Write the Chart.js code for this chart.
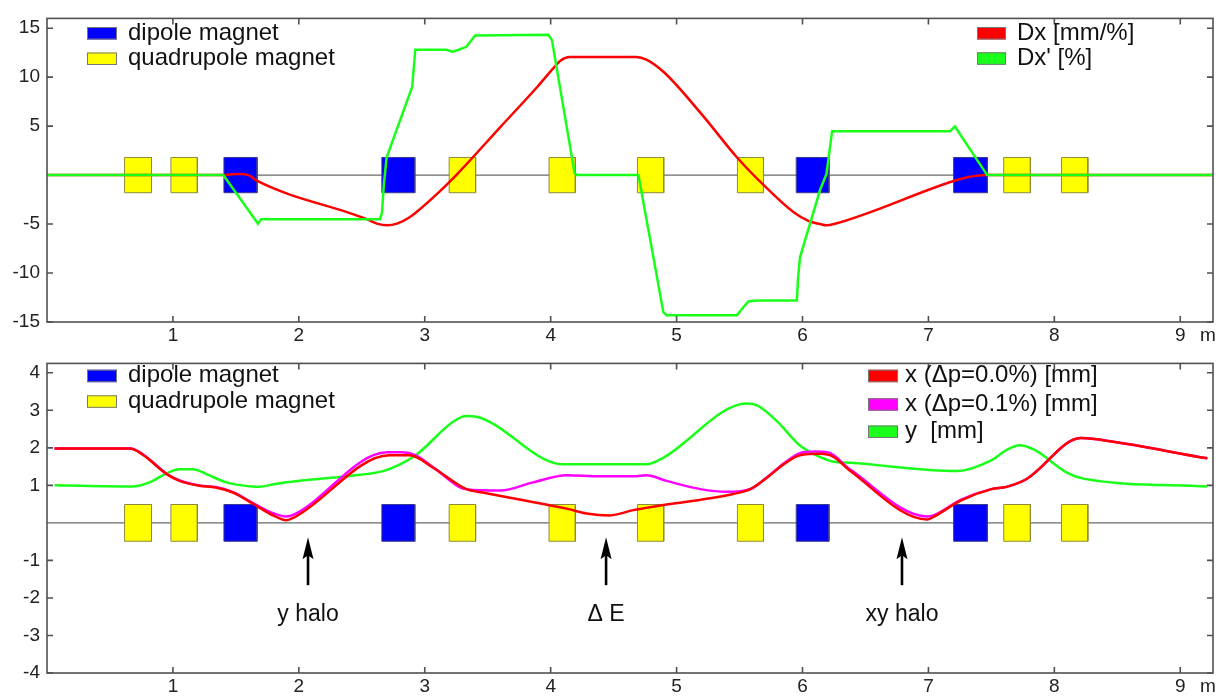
<!DOCTYPE html>
<html>
<head>
<meta charset="utf-8">
<script src="https://cdn.jsdelivr.net/npm/chart.js@4.4.1/dist/chart.umd.min.js"></script>
<style>
  body { margin: 0; background: #fff; }
  #wrap { position: relative; width: 1221px; height: 697px; }
  canvas { position: absolute; left: 0; }
  #top { top: 0; }
  #bottom { top: 345px; }
</style>
</head>
<body>
<div id="wrap">
  <canvas id="top" width="1221" height="345"></canvas>
  <canvas id="bottom" width="1221" height="352"></canvas>
</div>
<script>
// beam line length [m] and axis ticks
const sMax = 9.26;
const xTickValues = [1, 2, 3, 4, 5, 6, 7, 8, 9, 9.22];
const xTickLabels = ['1', '2', '3', '4', '5', '6', '7', '8', '9', 'm'];
const topYTicks = [-15, -10, -5, 5, 10, 15];
const bottomYTicks = [-4, -3, -2, -1, 1, 2, 3, 4];

// magnets along the line
const magnetStart = [0.616, 0.984, 1.405, 2.659, 3.194, 3.987, 4.689, 5.483, 5.950, 7.200, 7.598, 8.057];
const magnetEnd   = [0.830, 1.194, 1.668, 2.921, 3.404, 4.196, 4.898, 5.690, 6.210, 7.468, 7.810, 8.266];
const magnetType  = ['quad', 'quad', 'dipole', 'dipole', 'quad', 'quad', 'quad', 'quad', 'dipole', 'dipole', 'quad', 'quad'];
const magnetLabels = ['dipole magnet', 'quadrupole magnet'];

// top panel: dispersion
const dxS = [0, 1.40, 1.47, 1.53, 1.60, 1.67, 2.54, 2.62, 2.70, 2.78, 2.88, 2.96, 3.10, 3.25, 3.60, 3.90, 4.02, 4.08, 4.15, 4.68, 4.76, 4.90, 5.20, 5.48, 5.69, 5.93, 6.05, 6.14, 6.19, 6.25, 7.20, 7.30, 7.40, 7.46, 9.26];
const dxV = [0, 0, 0.08, 0.1, 0, -0.6, -4.5, -4.95, -5.13, -4.95, -4.3, -3.5, -1.9, 0, 4.9, 9.1, 10.9, 11.7, 12.05, 12.07, 11.8, 10.5, 6.2, 1.8, -1.0, -3.8, -4.7, -5.0, -5.13, -5.0, -0.6, -0.25, -0.05, 0, 0];
const dxpS = [0, 1.40, 1.676, 1.70, 2.643, 2.66, 2.675, 2.697, 2.90, 2.91, 2.925, 3.17, 3.22, 3.27, 3.33, 3.40, 3.98, 4.01, 4.19, 4.21, 4.697, 4.895, 4.92, 5.48, 5.53, 5.57, 5.64, 5.955, 5.965, 5.98, 6.14, 6.19, 6.235, 7.17, 7.21, 7.467, 9.26];
const dxpV = [0, 0, -4.97, -4.5, -4.5, -3.9, -1.0, 1.8, 9.0, 10.5, 12.8, 12.8, 12.6, 12.8, 13.1, 14.25, 14.33, 13.8, 0.2, 0, 0, -14.0, -14.3, -14.3, -13.5, -12.9, -12.8, -12.8, -10.5, -8.4, -1.5, 0.1, 4.47, 4.47, 4.96, 0, 0];
const topLabels = ['Dx [mm/%]', "Dx' [%]"];

// bottom panel: beam envelopes
const x0S = [0.06, 0.66, 0.76, 0.95, 1.053, 1.21, 1.34, 1.477, 1.636, 1.795, 1.90, 1.96, 2.72, 2.88, 3.067, 3.33, 3.46, 4.127, 4.286, 4.47, 4.657, 4.79, 5.45, 5.585, 5.72, 5.85, 5.98, 6.14, 6.246, 6.38, 6.99, 7.04, 7.26, 7.50, 7.62, 7.78, 8.21, 8.30, 9.215];
const x0V = [1.98, 1.98, 1.82, 1.30, 1.12, 0.99, 0.945, 0.81, 0.51, 0.20, 0.07, 0.14, 1.80, 1.80, 1.47, 0.90, 0.81, 0.38, 0.25, 0.20, 0.34, 0.42, 0.77, 0.90, 1.21, 1.56, 1.80, 1.84, 1.76, 1.38, 0.09, 0.16, 0.60, 0.90, 0.96, 1.17, 2.26, 2.24, 1.72];
const x1S = [0.06, 0.66, 0.76, 0.95, 1.053, 1.21, 1.34, 1.477, 1.636, 1.795, 1.90, 1.96, 2.70, 2.82, 2.93, 3.067, 3.33, 3.60, 3.86, 4.127, 4.39, 4.66, 4.76, 4.92, 5.19, 5.40, 5.585, 5.72, 5.85, 5.98, 6.10, 6.20, 6.38, 6.99, 7.04, 7.26, 7.50, 7.62, 7.78, 8.21, 8.30, 9.215];
const x1V = [1.98, 1.98, 1.83, 1.31, 1.13, 1.00, 0.955, 0.82, 0.53, 0.26, 0.17, 0.22, 1.88, 1.88, 1.80, 1.48, 0.90, 0.86, 1.08, 1.27, 1.24, 1.24, 1.27, 1.12, 0.90, 0.83, 0.90, 1.22, 1.58, 1.86, 1.90, 1.88, 1.42, 0.17, 0.20, 0.62, 0.90, 0.96, 1.17, 2.26, 2.24, 1.72];
const yS = [0.06, 0.68, 0.815, 0.95, 1.053, 1.16, 1.266, 1.424, 1.55, 1.69, 1.80, 2.007, 2.40, 2.67, 2.80, 2.935, 3.227, 3.33, 3.41, 4.10, 4.76, 4.87, 5.56, 5.64, 5.80, 5.98, 6.14, 6.246, 6.38, 7.23, 7.49, 7.625, 7.72, 7.84, 8.10, 8.23, 9.215];
const yV = [1.00, 0.97, 1.08, 1.32, 1.43, 1.43, 1.30, 1.08, 1.00, 0.96, 1.03, 1.12, 1.25, 1.38, 1.55, 1.82, 2.70, 2.85, 2.83, 1.56, 1.56, 1.69, 3.18, 3.13, 2.70, 2.06, 1.75, 1.63, 1.60, 1.38, 1.65, 1.95, 2.07, 1.95, 1.34, 1.18, 0.97];
const bottomLabels = ['x (Δp=0.0%) [mm]', 'x (Δp=0.1%) [mm]', 'y  [mm]'];

// arrows in bottom panel
const annoS = [2.073, 4.44, 6.79];
const annoLabels = ['y halo', 'Δ E', 'xy halo'];

const RED = '#ff0000', GREEN = '#1aff1a', MAGENTA = '#ff00ff', BLUE = '#0000ff', YELLOW = '#ffff00';
const FONT = '"Liberation Sans", Arial, sans-serif';

Chart.defaults.font.family = FONT;
Chart.defaults.font.size = 19;
Chart.defaults.color = '#222';

function pts(s, v) {
  return s.map((x, i) => ({ x: x, y: v[i] }));
}

function curve(s, v, color, order, smooth) {
  return {
    data: pts(s, v), borderColor: color, borderWidth: 2.5, pointRadius: 0,
    fill: false, order: order,
    tension: smooth ? 0.4 : 0, cubicInterpolationMode: smooth ? 'monotone' : 'default'
  };
}

function magnetSets(h) {
  const sets = [];
  magnetStart.forEach((a, i) => {
    const b = magnetEnd[i];
    const dip = magnetType[i] === 'dipole';
    sets.push({
      data: [{ x: a, y: h }, { x: b, y: h }],
      borderWidth: 0, pointRadius: 0, tension: 0,
      backgroundColor: dip ? BLUE : YELLOW, fill: { value: -h }, order: 6
    });
    sets.push({
      data: [{ x: a, y: -h }, { x: a, y: h }, { x: b, y: h }, { x: b, y: -h }, { x: a, y: -h }],
      borderColor: dip ? '#3a3a8c' : '#8c8a3c', borderWidth: 1, pointRadius: 0,
      tension: 0, fill: false, order: 5
    });
  });
  return sets;
}

function zeroLine() {
  return { data: [{ x: 0, y: 0 }, { x: sMax, y: 0 }], borderColor: '#6a6a6a', borderWidth: 1.2, pointRadius: 0, fill: false, order: 10 };
}

function drawLegend(ctx, labels, colors, boxX, boxW, textX, rows) {
  ctx.font = '24px ' + FONT;
  ctx.textAlign = 'left';
  ctx.textBaseline = 'alphabetic';
  labels.forEach((lab, i) => {
    const cy = rows[i];
    ctx.fillStyle = colors[i];
    ctx.fillRect(boxX, cy - 6, boxW, 12.5);
    ctx.strokeStyle = '#777';
    ctx.lineWidth = 1;
    ctx.strokeRect(boxX + 0.5, cy - 5.5, boxW - 1, 11.5);
    ctx.fillStyle = '#111';
    ctx.fillText(lab, textX, cy + 6.5);
  });
}

function decor(legends, withArrows) {
  return {
    id: 'decor',
    afterDraw(chart) {
      const { ctx, chartArea: a, scales: { x, y } } = chart;
      ctx.save();
      // frame with inward ticks
      ctx.strokeStyle = '#505050';
      ctx.lineWidth = 1.6;
      ctx.strokeRect(a.left, a.top, a.right - a.left, a.bottom - a.top);
      ctx.beginPath();
      x.ticks.forEach((t, i) => {
        if (xTickLabels[i] === 'm') return;
        const px = x.getPixelForValue(t.value);
        ctx.moveTo(px, a.bottom); ctx.lineTo(px, a.bottom - 6);
        ctx.moveTo(px, a.top); ctx.lineTo(px, a.top + 6);
      });
      y.ticks.forEach(t => {
        const py = y.getPixelForValue(t.value);
        ctx.moveTo(a.left, py); ctx.lineTo(a.left + 6, py);
        ctx.moveTo(a.right, py); ctx.lineTo(a.right - 6, py);
      });
      ctx.stroke();

      legends.forEach(l => drawLegend(ctx, l.labels, l.colors, l.boxX, l.boxW, l.textX, l.rows));

      if (withArrows) {
        annoS.forEach((s, i) => {
          const px = x.getPixelForValue(s);
          const tip = y.getPixelForValue(-0.38);
          const tail = y.getPixelForValue(-1.66);
          ctx.strokeStyle = '#000';
          ctx.lineWidth = 2.6;
          ctx.beginPath();
          ctx.moveTo(px, tail); ctx.lineTo(px, tip + 14);
          ctx.stroke();
          ctx.fillStyle = '#000';
          ctx.beginPath();
          ctx.moveTo(px, tip);
          ctx.lineTo(px + 5.5, tip + 22);
          ctx.lineTo(px, tip + 18);
          ctx.lineTo(px - 5.5, tip + 22);
          ctx.closePath();
          ctx.fill();
          ctx.font = '23px ' + FONT;
          ctx.textAlign = 'center';
          ctx.textBaseline = 'alphabetic';
          ctx.fillStyle = '#111';
          ctx.fillText(annoLabels[i], px, y.getPixelForValue(-2.62));
        });
      }
      ctx.restore();
    }
  };
}

function xScale(height) {
  return {
    type: 'linear', min: 0, max: sMax,
    grid: { display: false, drawTicks: false }, border: { display: false },
    afterBuildTicks: s => { s.ticks = xTickValues.map(v => ({ value: v })); },
    afterFit: s => { s.height = height; },
    ticks: { autoSkip: false, maxRotation: 0, padding: 2, callback: (v, i) => xTickLabels[i] }
  };
}

function yScale(min, max, ticks) {
  return {
    type: 'linear', min: min, max: max,
    grid: { display: false, drawTicks: false }, border: { display: false },
    afterBuildTicks: s => { s.ticks = ticks.map(v => ({ value: v })); },
    afterFit: s => { s.width = 47; },
    ticks: { padding: 7, callback: v => String(v) }
  };
}

const magnetColors = [BLUE, YELLOW];

new Chart(document.getElementById('top'), {
  type: 'line',
  data: {
    datasets: [
      curve(dxpS, dxpV, GREEN, 0, false),
      curve(dxS, dxV, RED, 1, true),
      ...magnetSets(1.8),
      zeroLine()
    ]
  },
  options: {
    responsive: false, animation: false,
    layout: { padding: { top: 9, right: 8, left: 0, bottom: 0 } },
    plugins: { legend: { display: false }, tooltip: { enabled: false } },
    scales: { x: xScale(23), y: yScale(-15, 16, topYTicks) }
  },
  plugins: [decor([
    { labels: magnetLabels, colors: magnetColors, boxX: 87, boxW: 30, textX: 128, rows: [33, 58.5] },
    { labels: topLabels, colors: [RED, GREEN], boxX: 977, boxW: 29, textX: 1017, rows: [33, 58.3] }
  ], false)]
});

new Chart(document.getElementById('bottom'), {
  type: 'line',
  data: {
    datasets: [
      curve(x0S, x0V, RED, 0, true),
      curve(x1S, x1V, MAGENTA, 1, true),
      curve(yS, yV, GREEN, 2, true),
      ...magnetSets(0.49),
      zeroLine()
    ]
  },
  options: {
    responsive: false, animation: false,
    layout: { padding: { top: 16, right: 8, left: 0, bottom: 0 } },
    plugins: { legend: { display: false }, tooltip: { enabled: false } },
    scales: { x: xScale(24), y: yScale(-4, 4.25, bottomYTicks) }
  },
  plugins: [decor([
    { labels: magnetLabels, colors: magnetColors, boxX: 87, boxW: 30, textX: 128, rows: [30.7, 56.3] },
    { labels: bottomLabels, colors: [RED, MAGENTA, GREEN], boxX: 868, boxW: 30, textX: 905, rows: [30.7, 59.2, 86.5] }
  ], true)]
});
</script>
</body>
</html>
